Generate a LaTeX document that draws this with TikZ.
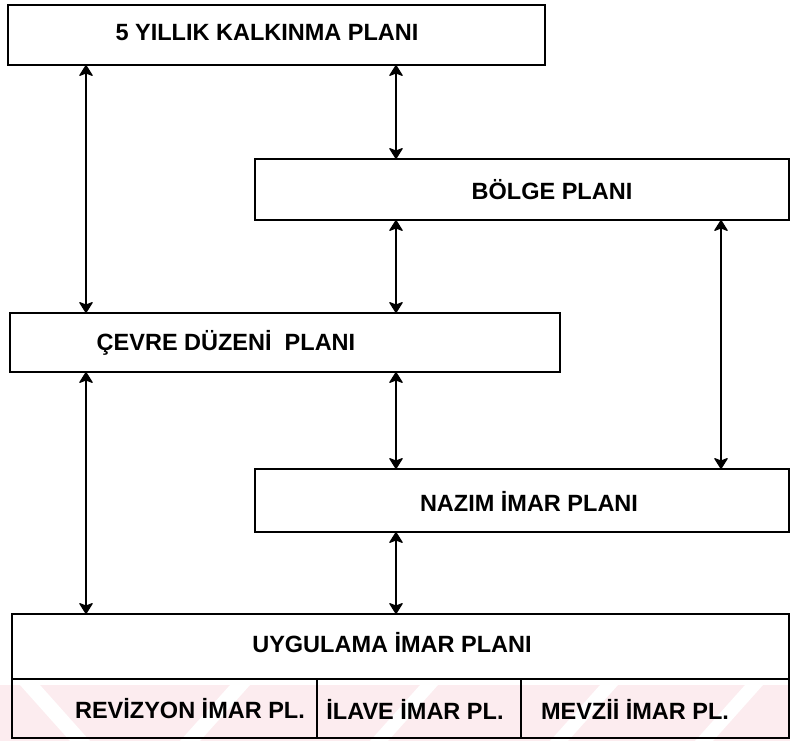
\documentclass[tikz,border=0pt]{standalone}
\usepackage{fontspec}
\setmainfont{Liberation Sans}
\usetikzlibrary{arrows.meta}
\definecolor{wmpink}{RGB}{252,236,239}
\begin{document}
\begin{tikzpicture}[x=1pt,y=-1pt,
  box/.style={draw, line width=1.3pt, rectangle, inner sep=0pt, outer sep=0pt},
  lbl/.style={font=\bfseries\fontsize{23.5}{26}\selectfont, inner sep=0pt},
  biarrow/.style={line width=1.1pt, arrows={Stealth[length=12pt,width=15pt,inset=3pt,round]-Stealth[length=12pt,width=15pt,inset=3pt,round]}}]
\useasboundingbox (0,0) rectangle (790,741);
% faint watermark in the bottom band
\fill[wmpink] (0,685) rectangle (790,741);
\fill[white] (20,685) -- (40,685) -- (90,741) -- (70,741) -- cycle;
\fill[white] (230,685) -- (250,685) -- (200,741) -- (180,741) -- cycle;
\fill[white] (420,685) -- (438,685) -- (388,741) -- (370,741) -- cycle;
\fill[white] (600,685) -- (618,685) -- (568,741) -- (550,741) -- cycle;
\fill[white] (745,685) -- (763,685) -- (713,741) -- (695,741) -- cycle;
% boxes
\node[box, minimum width=537pt, minimum height=60pt] (top) at (276.5,35) {};
\node[box, minimum width=534pt, minimum height=61pt] (bolge) at (522,189.5) {};
\node[box, minimum width=550pt, minimum height=59pt] (cevre) at (285,342.5) {};
\node[box, minimum width=534pt, minimum height=63pt] (nazim) at (522,500.5) {};
\node[box, minimum width=777pt, minimum height=65pt] (uyg) at (400.5,646.5) {};
\node[box, minimum width=305pt, minimum height=59pt] (rev) at (164.5,708.5) {};
\node[box, minimum width=204pt, minimum height=59pt] (ilave) at (419,708.5) {};
\node[box, minimum width=268pt, minimum height=59pt] (mevzi) at (655,708.5) {};
% labels
\node[lbl] (ttop) at (267,33) {5 YILLIK KALKINMA PLANI};
\node[lbl] (tbolge) at (552,190) {BÖLGE PLANI};
\node[lbl] (tcevre) at (226,343) {ÇEVRE DÜZENİ\ \ PLANI};
\node[lbl] (tnazim) at (529,501) {NAZIM İMAR PLANI};
\node[lbl] (tuyg) at (392,643) {UYGULAMA İMAR PLANI};
\node[lbl] (trev) at (190,709) {REVİZYON İMAR PL.};
\node[lbl] (tilave) at (415,709) {İLAVE İMAR PL.};
\node[lbl] (tmevzi) at (635,709) {MEVZİİ İMAR PL.};
% arrow columns
\coordinate (ca) at (86,0);
\coordinate (cb) at (396,0);
\coordinate (cc) at (721,0);
\draw[biarrow] (top.south -| ca) -- (cevre.north -| ca);
\draw[biarrow] (top.south -| cb) -- (bolge.north -| cb);
\draw[biarrow] (bolge.south -| cb) -- (cevre.north -| cb);
\draw[biarrow] (bolge.south -| cc) -- (nazim.north -| cc);
\draw[biarrow] (cevre.south -| cb) -- (nazim.north -| cb);
\draw[biarrow] (cevre.south -| ca) -- (uyg.north -| ca);
\draw[biarrow] (nazim.south -| cb) -- (uyg.north -| cb);
\end{tikzpicture}
\end{document}
